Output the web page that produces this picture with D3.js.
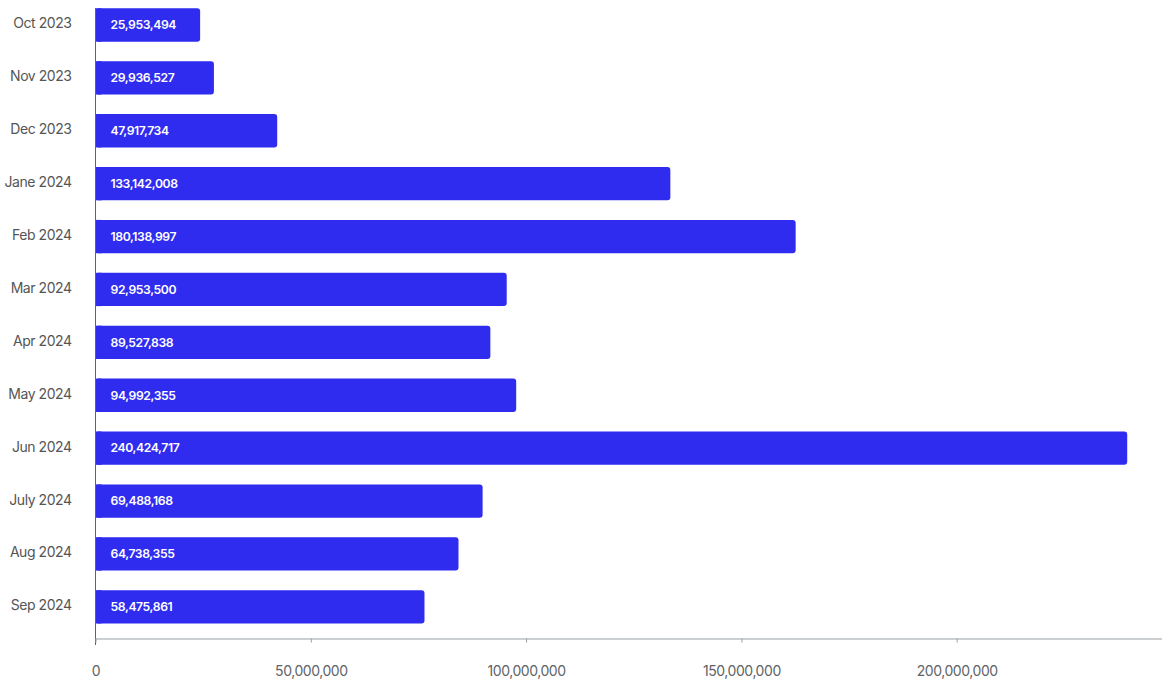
<!DOCTYPE html>
<html><head><meta charset="utf-8">
<script src="https://cdn.jsdelivr.net/npm/d3@7"></script>
<style>
html,body{margin:0;padding:0;background:#fff;}
svg{display:block;font-family:Inter,"Noto Sans",sans-serif;}
</style></head>
<body>
<svg id="chart" width="1162" height="680"></svg>
<script>
const categories = ["Oct 2023","Nov 2023","Dec 2023","Jane 2024","Feb 2024","Mar 2024","Apr 2024","May 2024","Jun 2024","July 2024","Aug 2024","Sep 2024"];
// bar lengths as drawn in the picture
const barValues = [24.3e6, 27.5e6, 42.2e6, 133.5e6, 162.6e6, 95.5e6, 91.7e6, 97.7e6, 239.6e6, 89.9e6, 84.3e6, 76.4e6];
// labels printed inside bars
const barLabels = ["25,953,494","29,936,527","47,917,734","133,142,008","180,138,997","92,953,500","89,527,838","94,992,355","240,424,717","69,488,168","64,738,355","58,475,861"];
const xTicks = [0, 50e6, 100e6, 150e6, 200e6];

const svg = d3.select("#chart");
const x = d3.scaleLinear().domain([0, 250e6]).range([95.5, 1172]);
const y = d3.scaleBand().domain(categories).range([0, 631.8]).paddingInner(0.37).paddingOuter(0.157);
const axisY = 638.5;

svg.append("g").selectAll("rect").data(categories).join("rect")
  .attr("x", x(0))
  .attr("y", d => y(d))
  .attr("width", (d,i) => x(barValues[i]) - x(0))
  .attr("height", y.bandwidth())
  .attr("rx", 3).attr("ry", 3)
  .attr("fill", "#2f2cf0");

svg.append("g").selectAll("rect").data(categories).join("rect")
  .attr("x", x(0))
  .attr("y", d => y(d))
  .attr("width", 6)
  .attr("height", y.bandwidth())
  .attr("fill", "#2f2cf0");

svg.append("g").selectAll("text").data(categories).join("text")
  .attr("x", x(0) + 15)
  .attr("y", d => y(d) + y.bandwidth()/2)
  .attr("dy", "0.35em")
  .attr("fill", "#fff")
  .attr("font-size", 12.2)
  .attr("font-weight", 600)
  .attr("letter-spacing", "-0.4px")
  .text((d,i) => barLabels[i]);

const yAxis = d3.axisLeft(y).tickSize(0).tickPadding(24);
const gy = svg.append("g").attr("transform", `translate(${x(0)},0)`).call(yAxis);
gy.select(".domain").remove();
gy.selectAll("text").attr("font-size", 14).attr("fill", "#555").attr("dy", "0.25em")
  .attr("font-family", "Inter,'Noto Sans',sans-serif").attr("letter-spacing","-0.45px");
svg.append("line").attr("x1", x(0)).attr("x2", x(0)).attr("y1", 8).attr("y2", 645)
  .attr("stroke", "#5f6368").attr("stroke-width", 1);

const xAxis = d3.axisBottom(x).tickValues(xTicks).tickSize(4).tickPadding(24).tickFormat(d3.format(","));
const gx = svg.append("g").attr("transform", `translate(0,${axisY})`).call(xAxis);
gx.select(".domain").attr("d", `M${x(0)},0.5H1162`).attr("stroke", "#9aa0a6");
gx.selectAll(".tick line").attr("stroke", "#9aa0a6");
gx.selectAll("text").attr("font-size", 14).attr("fill", "#5f6368")
  .attr("font-family", "Inter,'Noto Sans',sans-serif").attr("letter-spacing","-0.45px");
</script>
</body></html>
